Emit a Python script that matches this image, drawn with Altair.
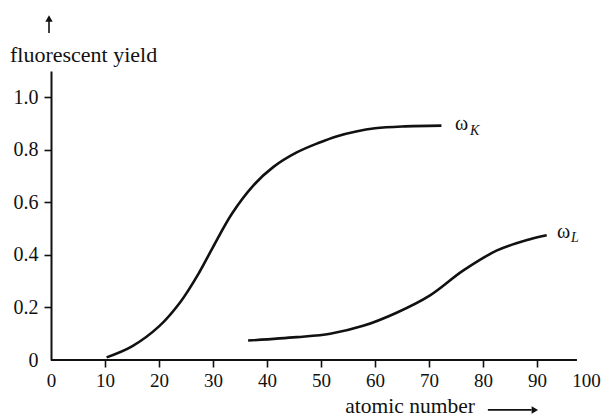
import altair as alt
import pandas as pd

# omega_K curve (atomic number, fluorescent yield)
k_z = [10.3, 15.0, 20.0, 24.0, 27.5, 30.0, 33.5, 37.5, 41.2, 45.5, 49.5, 53.0, 56.5, 60.0, 65.0, 72.3]
k_w = [0.010, 0.052, 0.128, 0.222, 0.335, 0.430, 0.557, 0.665, 0.735, 0.790, 0.826, 0.852, 0.870, 0.882, 0.889, 0.892]

# omega_L curve
l_z = [36.5, 45.5, 51.7, 57.8, 64.0, 70.2, 76.3, 82.6, 88.7, 91.8]
l_w = [0.074, 0.087, 0.100, 0.130, 0.180, 0.246, 0.340, 0.417, 0.460, 0.475]

x_ticks = [0, 10, 20, 30, 40, 50, 60, 70, 80, 90, 100]
y_ticks = [0, 0.2, 0.4, 0.6, 0.8, 1.0]

FONT = "Liberation Serif"
INK = "#111111"
XD = [0, 100]
YD = [0, 1.1]

curves = pd.DataFrame({
    "Z": k_z + l_z,
    "w": k_w + l_w,
    "series": ["K"] * len(k_z) + ["L"] * len(l_z),
})

xs = alt.Scale(domain=XD, nice=False, zero=False)
ys = alt.Scale(domain=YD, nice=False, zero=False)

XAX = alt.Axis(
    values=x_ticks, domain=False, grid=False, title=None,
    tickSize=7, tickWidth=1.6, tickColor=INK,
    tickOpacity=alt.expr("datum.value == 0 || datum.value == 100 ? 0 : 1"),
    labelOffset=alt.expr("datum.value == 100 ? -5 : 0"),
    labelFont=FONT, labelFontSize=19, labelColor=INK, labelPadding=4,
    labelFlush=False)
YAX = alt.Axis(
    values=y_ticks, domain=True, domainColor=INK, domainWidth=2, grid=False, title=None,
    tickSize=7, tickWidth=1.6, tickColor=INK,
    tickOpacity=alt.expr("datum.value == 0 ? 0 : 1"),
    labelExpr="datum.value == 0 ? '0' : format(datum.value, '.1f')",
    labelFont=FONT, labelFontSize=20, labelColor=INK, labelPadding=6)


def X(f):
    return alt.X(f, scale=xs, axis=XAX, title=None)


def Y(f):
    return alt.Y(f, scale=ys, axis=YAX, title=None)


lines = alt.Chart(curves).mark_line(color=INK, strokeWidth=2.6, interpolate="catmull-rom").encode(
    x=X("Z:Q"), y=Y("w:Q"), detail="series:N")

# x axis line (stops short of 100)
xaxis_df = pd.DataFrame({"x0": [0.0], "x1": [97.4], "y": [0.0]})
xaxis = alt.Chart(xaxis_df).mark_rule(color=INK, strokeWidth=2).encode(
    x=X("x0:Q"), x2="x1:Q", y=Y("y:Q"))

# arrows
varrow_df = pd.DataFrame({"x": [-0.37], "y0": [1.245], "y1": [1.30]})
varrow = alt.Chart(varrow_df).mark_rule(color=INK, strokeWidth=1.6).encode(
    x=X("x:Q"), y=Y("y0:Q"), y2="y1:Q")
vhead = alt.Chart(varrow_df).mark_point(shape="triangle-up", filled=True, color=INK, size=55, opacity=1).encode(
    x=X("x:Q"), y=Y("y1:Q"))

harrow_df = pd.DataFrame({"x0": [80.9], "x1": [89.0], "y": [-0.19], "hx": [89.6]})
harrow = alt.Chart(harrow_df).mark_rule(color=INK, strokeWidth=1.6).encode(
    x=X("x0:Q"), x2="x1:Q", y=Y("y:Q"))
hhead = alt.Chart(harrow_df).mark_point(shape="triangle-right", filled=True, color=INK, size=55, opacity=1).encode(
    x=X("hx:Q"), y=Y("y:Q"))

# titles
ytitle_df = pd.DataFrame({"x": [-7.6], "y": [1.135], "t": ["fluorescent yield"]})
xtitle_df = pd.DataFrame({"x": [66.5], "y": [-0.203], "t": ["atomic number"]})
ytitle = alt.Chart(ytitle_df).mark_text(font=FONT, fontSize=22, color=INK, align="left", baseline="alphabetic").encode(
    x=X("x:Q"), y=Y("y:Q"), text="t:N")
xtitle = alt.Chart(xtitle_df).mark_text(font=FONT, fontSize=21.5, color=INK, align="center", baseline="alphabetic").encode(
    x=X("x:Q"), y=Y("y:Q"), text="t:N")

# curve labels
omega_df = pd.DataFrame({"x": [74.8, 93.7], "y": [0.897, 0.486], "t": ["ω", "ω"]})
sub_df = pd.DataFrame({"x": [77.6, 96.3], "y": [0.872, 0.465], "t": ["K", "L"]})
omegas = alt.Chart(omega_df).mark_text(font=FONT, fontSize=20, color=INK, align="left", baseline="middle").encode(
    x=X("x:Q"), y=Y("y:Q"), text="t:N")
subs = alt.Chart(sub_df).mark_text(font=FONT, fontSize=14, fontStyle="italic", color=INK, align="left", baseline="middle").encode(
    x=X("x:Q"), y=Y("y:Q"), text="t:N")

chart = alt.layer(lines, xaxis, varrow, vhead, harrow, hhead, ytitle, xtitle, omegas, subs).properties(
    width=540, height=289,
    padding={"left": 43, "top": 63, "right": 10, "bottom": 58},
    autosize=alt.AutoSizeParams(type="none"),
    background="white",
).configure_view(stroke=None)

chart.save("out.html", embed_options={"renderer": "svg", "actions": False})
